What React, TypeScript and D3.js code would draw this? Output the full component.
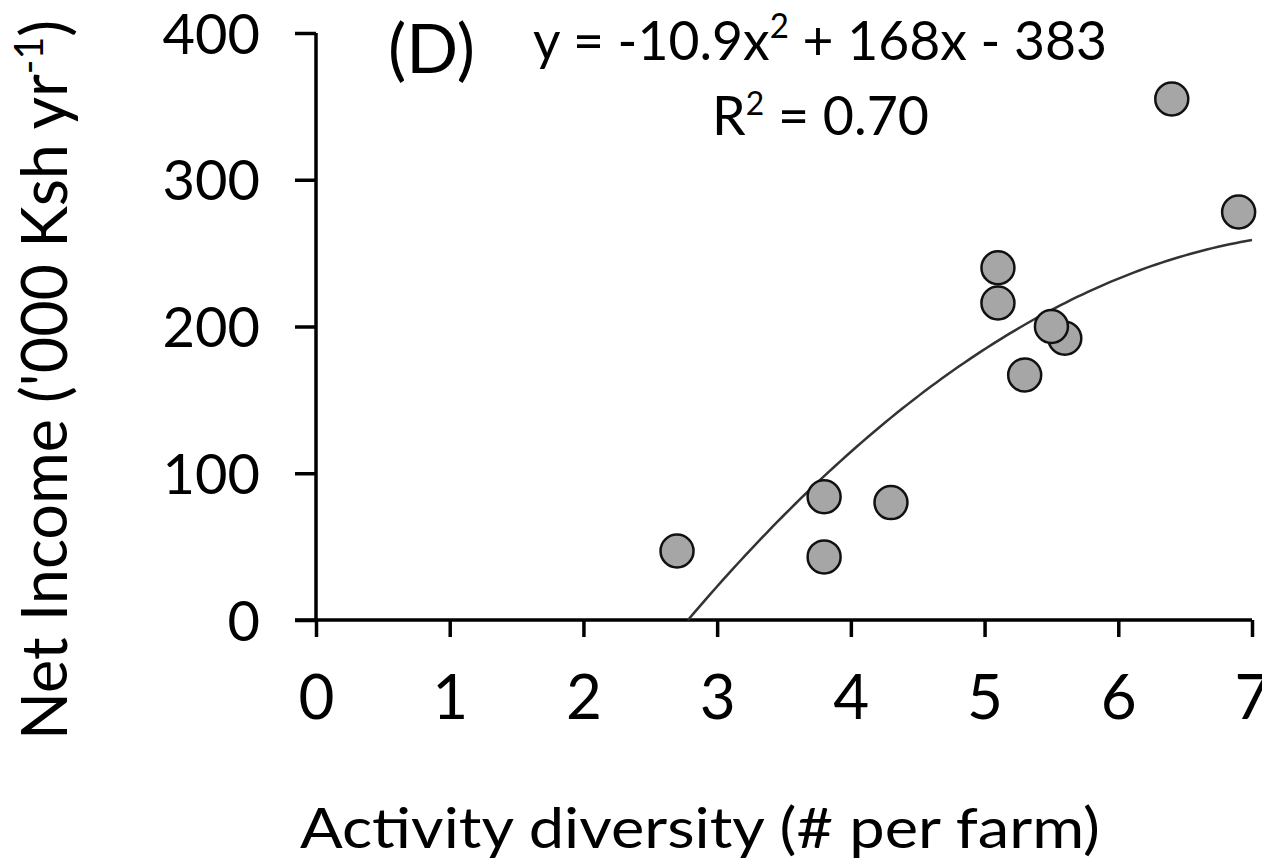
import React, { useRef, useEffect } from 'react';
import * as d3 from 'd3';

// farms: activity diversity vs net income ('000 Ksh / yr)
const activity = [2.7, 3.8, 3.8, 4.3, 5.1, 5.1, 5.3, 5.6, 5.5, 6.4, 6.9];
const income = [47, 43, 84, 80, 240, 216, 167, 192, 200, 355, 278];

const xTicks = [0, 1, 2, 3, 4, 5, 6, 7];
const yTicks = [0, 100, 200, 300, 400];

// quadratic fit y = a x^2 + b x + c
const fitCoef = [-10.9, 168, -383];

const W = 1262;
const H = 861;
const FONT = 'Lato, "Open Sans", sans-serif';

const App = () => {
  const xAxisRef = useRef<SVGGElement>(null);
  const yAxisRef = useRef<SVGGElement>(null);

  const x = d3.scaleLinear().domain([0, 7]).range([316, 1252]);
  const y = d3.scaleLinear().domain([0, 400]).range([620, 33]);

  const [a, b, c] = fitCoef;
  const fit = (v: number) => a * v * v + b * v + c;
  const x0 = (-b + Math.sqrt(b * b - 4 * a * c)) / (2 * a);
  const curveXs = d3.range(0, 101).map(i => x0 + (7 - x0) * i / 100);
  const line = d3.line<number>()
    .x(d => x(d))
    .y(d => y(fit(d)))
    .curve(d3.curveLinear);

  useEffect(() => {
    const gx = d3.select(xAxisRef.current);
    gx.call(d3.axisBottom(x).tickValues(xTicks).tickFormat(d3.format('d')).tickSize(17).tickSizeOuter(0).tickPadding(38));
    gx.select('.domain').remove();
    gx.selectAll('line').attr('stroke', '#000').attr('stroke-width', 3.5);
    gx.selectAll('text').attr('font-family', FONT).attr('font-size', 62).attr('fill', '#000');

    const gy = d3.select(yAxisRef.current);
    gy.call(d3.axisLeft(y).tickValues(yTicks).tickFormat(d3.format('d')).tickSize(21).tickSizeOuter(0).tickPadding(35));
    gy.select('.domain').remove();
    gy.selectAll('line').attr('stroke', '#000').attr('stroke-width', 3.5);
    gy.selectAll('text').attr('font-family', FONT).attr('font-size', 56).attr('fill', '#000').attr('dy', '0.36em');
  }, []);

  return (
    <svg width={W} height={H} style={{ position: 'absolute', left: 0, top: 0, background: '#fff' }}>
      <g ref={xAxisRef} transform="translate(0,620)" />
      <g ref={yAxisRef} transform="translate(316,0)" />
      <line x1={295} x2={1252} y1={620} y2={620} stroke="#000" strokeWidth={3.5} />
      <line x1={316} x2={316} y1={33} y2={620} stroke="#000" strokeWidth={3.5} />

      <path d={line(curveXs) || ''} fill="none" stroke="#333" strokeWidth={2.5} />

      {activity.map((v, i) => (
        <circle key={i} cx={x(v)} cy={y(income[i])} r={16.5} fill="#a6a6a6" stroke="#111" strokeWidth={2.5} />
      ))}

      <text x={388} y={73} fontFamily={FONT} fontSize={68} textLength={87} lengthAdjust="spacingAndGlyphs">(D)</text>
      <text x={533} y={60} fontFamily={FONT} fontSize={55} textLength={574} lengthAdjust="spacingAndGlyphs">
        y = -10.9x<tspan dy={-22} fontSize={34}>2</tspan><tspan dy={22}> + 168x - 383</tspan>
      </text>
      <text x={712} y={135} fontFamily={FONT} fontSize={54} textLength={217} lengthAdjust="spacingAndGlyphs">
        R<tspan dy={-20} fontSize={32}>2</tspan><tspan dy={20}> = 0.70</tspan>
      </text>

      <text x={300} y={848} fontFamily={FONT} fontSize={57} textLength={800} lengthAdjust="spacingAndGlyphs">
        Activity diversity (# per farm)
      </text>
      <text transform="translate(67,380) rotate(-90)" textAnchor="middle" fontFamily={FONT} fontSize={64}
        textLength={720} lengthAdjust="spacingAndGlyphs">
        Net Income ('000 Ksh yr<tspan dy={-24} fontSize={40}>-1</tspan><tspan dy={24}>)</tspan>
      </text>
    </svg>
  );
};

export default App;
